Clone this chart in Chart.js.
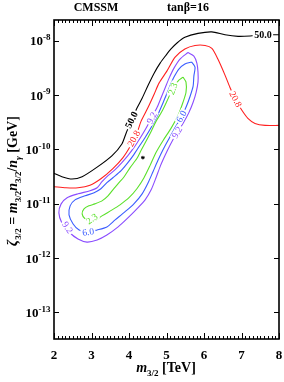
<!DOCTYPE html>
<html><head><meta charset="utf-8">
<script src="https://cdn.jsdelivr.net/npm/chart.js@4/dist/chart.umd.min.js"></script>
<style>html,body{margin:0;padding:0;background:#fff;overflow:hidden}</style>
</head><body>
<canvas id="c" width="284" height="382"></canvas>
<script>
// ---------- data ----------
const levels = ['50.0', '20.8', '9.2', '6.0', '2.3'];

const c50_x = [2.00, 2.21, 2.48, 2.75, 3.15, 3.55, 3.81, 3.93, 4.07, 4.21, 4.35, 4.51, 4.67, 4.83, 4.99, 5.12, 5.28, 5.49, 5.84, 6.21, 6.56, 6.91, 7.23, 7.55, 8.00];
const c50_y = [3.6e-11, 3.12e-11, 2.83e-11, 3.12e-11, 4.68e-11, 7.64e-11, 1.25e-10, 2.04e-10, 3.40e-10, 5.68e-10, 8.69e-10, 1.51e-9, 2.52e-9, 3.86e-9, 5.43e-9, 7.02e-9, 9.06e-9, 1.15e-8, 1.36e-8, 1.45e-8, 1.28e-8, 1.20e-8, 1.22e-8, 1.28e-8, 1.28e-8];

const c208_x = [2.00, 2.32, 2.64, 2.96, 3.25, 3.57, 3.84, 4.03, 4.21, 4.32, 4.51, 4.67, 4.80, 5.01, 5.23, 5.49, 5.76, 6.03, 6.21, 6.37, 6.56, 6.69, 6.85, 7.01, 7.17, 7.36, 7.63, 8.00];
const c208_y = [2.04e-11, 1.95e-11, 1.95e-11, 2.17e-11, 2.86e-11, 4.40e-11, 7.02e-11, 1.12e-10, 1.95e-10, 3.26e-10, 5.92e-10, 1.03e-9, 1.65e-9, 2.75e-9, 4.99e-9, 7.02e-9, 8.15e-9, 8.15e-9, 7.18e-9, 4.58e-9, 2.32e-9, 1.39e-9, 7.98e-10, 5.21e-10, 3.71e-10, 2.99e-10, 2.75e-10, 2.75e-10];

const c92_x = [5.57, 5.73, 5.81, 5.84, 5.84, 5.79, 5.71, 5.60, 5.44, 5.25, 5.09, 4.96, 4.83, 4.72, 4.59, 4.43, 4.21, 3.97, 3.71, 3.41, 3.15, 2.88, 2.64, 2.40, 2.21, 2.13, 2.19, 2.35, 2.64, 2.96, 3.15, 3.28, 3.44, 3.63, 3.81, 3.97, 4.13, 4.29, 4.45, 4.61, 4.75, 4.85, 4.96, 5.07, 5.20, 5.36, 5.57];
const c92_y = [6.04e-9, 5.21e-9, 3.86e-9, 2.63e-9, 1.72e-9, 1.12e-9, 7.33e-10, 4.79e-10, 2.99e-10, 1.87e-10, 1.17e-10, 7.64e-11, 4.79e-11, 2.99e-11, 1.79e-11, 1.17e-11, 7.98e-12, 5.43e-12, 3.71e-12, 2.63e-12, 2.13e-12, 1.95e-12, 2.22e-12, 2.99e-12, 4.40e-12, 6.73e-12, 9.86e-12, 1.28e-11, 1.51e-11, 1.72e-11, 1.95e-11, 2.52e-11, 3.26e-11, 4.21e-11, 5.68e-11, 7.64e-11, 1.07e-10, 1.58e-10, 2.42e-10, 3.86e-10, 5.92e-10, 8.69e-10, 1.33e-9, 2.04e-9, 3.12e-9, 4.58e-9, 6.04e-9];

const c60_x = [5.67, 5.76, 5.73, 5.71, 5.63, 5.52, 5.39, 5.23, 5.07, 4.91, 4.77, 4.64, 4.51, 4.35, 4.13, 3.89, 3.63, 3.41, 3.15, 2.91, 2.67, 2.51, 2.40, 2.43, 2.56, 2.83, 3.07, 3.25, 3.41, 3.57, 3.79, 3.97, 4.13, 4.27, 4.43, 4.59, 4.75, 4.88, 4.99, 5.09, 5.20, 5.33, 5.49, 5.67];
const c60_y = [4.04e-9, 3.26e-9, 2.22e-9, 1.45e-9, 9.46e-10, 5.92e-10, 3.86e-10, 2.52e-10, 1.58e-10, 9.86e-11, 6.18e-11, 3.86e-11, 2.42e-11, 1.51e-11, 9.86e-12, 7.02e-12, 4.99e-12, 3.71e-12, 3.26e-12, 2.99e-12, 3.26e-12, 4.21e-12, 6.18e-12, 9.06e-12, 1.17e-11, 1.39e-11, 1.58e-11, 1.87e-11, 2.42e-11, 2.99e-11, 4.04e-11, 5.68e-11, 7.98e-11, 1.12e-10, 1.65e-10, 2.52e-10, 4.04e-10, 6.44e-10, 9.86e-10, 1.45e-9, 2.13e-9, 2.99e-9, 3.71e-9, 4.04e-9];

const c23_x = [5.44, 5.52, 5.52, 5.44, 5.31, 5.12, 4.91, 4.72, 4.56, 4.40, 4.21, 4.00, 3.76, 3.55, 3.28, 3.12, 2.96, 2.83, 2.75, 2.80, 2.93, 3.09, 3.28, 3.44, 3.57, 3.71, 3.87, 4.03, 4.21, 4.32, 4.45, 4.59, 4.72, 4.88, 5.01, 5.12, 5.23, 5.33, 5.44];
const c23_y = [2.13e-9, 1.72e-9, 1.12e-9, 7.33e-10, 4.21e-10, 2.42e-10, 1.45e-10, 8.69e-11, 4.99e-11, 2.99e-11, 1.87e-11, 1.28e-11, 9.46e-12, 7.64e-12, 5.92e-12, 4.99e-12, 4.79e-12, 5.21e-12, 6.44e-12, 7.98e-12, 9.06e-12, 9.86e-12, 1.12e-11, 1.39e-11, 1.79e-11, 2.32e-11, 3.12e-11, 4.58e-11, 6.73e-11, 9.46e-11, 1.39e-10, 2.13e-10, 3.26e-10, 4.99e-10, 7.64e-10, 1.12e-9, 1.51e-9, 1.87e-9, 2.13e-9];

const bestFit_x = [4.37];
const bestFit_y = [7.0e-11];

// contour labels: level index, value position
const labelLevel = [0, 0, 1, 1, 2, 2, 2, 3, 3, 4, 4];
const label_x = [4.07, 7.57, 4.13, 6.84, 4.61, 5.28, 2.36, 5.40, 2.91, 5.17, 3.01];
const label_y = [3.47e-10, 1.26e-8, 1.58e-10, 8.32e-10, 3.78e-10, 2.04e-10, 3.62e-12, 4.04e-10, 2.99e-12, 1.30e-9, 5.21e-12];

const xTickValues = [2, 3, 4, 5, 6, 7, 8];
const yTickExps = [-8, -9, -10, -11, -12, -13];
const X_MIN = 2, X_MAX = 8, Y_MIN = 3.2e-14, Y_MAX = 2.4e-8;

// ---------- styles ----------
const levelColors = ['#000000', '#ff2020', '#8a4cff', '#3a5cff', '#5ae02a'];
const labelAngles = [-64, 0, -62, 62, -63, -60, 55, -62, -8, -68, -35];
const FAM = "'Liberation Serif','Times New Roman',serif";

const pts = (xs, ys) => xs.map((v, i) => ({x: v, y: ys[i]}));
const contourData = [[c50_x, c50_y], [c208_x, c208_y], [c92_x, c92_y], [c60_x, c60_y], [c23_x, c23_y]];

const datasets = contourData.map((d, i) => ({
  label: levels[i], data: pts(d[0], d[1]), showLine: true, borderColor: levelColors[i],
  borderWidth: 1.1, pointRadius: 0, tension: 0.25, fill: false
}));
datasets.push({label: 'best fit', data: pts(bestFit_x, bestFit_y), showLine: false,
  pointStyle: 'star', pointRadius: 1.8, borderColor: '#000', borderWidth: 1, backgroundColor: '#000'});

function drawRich(ctx, parts, cx, base, size) {
  const f = p => `${p[1] === 'bi' ? 'italic ' : ''}bold ${p[2] ? Math.round(size * 0.64) : size}px ${FAM}`;
  let total = 0;
  parts.forEach(p => { ctx.font = f(p); total += ctx.measureText(p[0]).width; });
  let x = cx - total / 2;
  ctx.textAlign = 'left'; ctx.textBaseline = 'alphabetic';
  parts.forEach(p => {
    ctx.font = f(p);
    ctx.fillText(p[0], x, base + (p[2] ? size * 0.28 : 0));
    x += ctx.measureText(p[0]).width;
  });
}

const deco = {
  id: 'deco',
  afterDatasetsDraw(chart) {
    const {ctx, chartArea: a, scales: {x, y}} = chart;
    ctx.save();
    // contour labels
    labelLevel.forEach((lv, i) => {
      const px = x.getPixelForValue(label_x[i]), py = y.getPixelForValue(label_y[i]);
      const t = levels[lv];
      ctx.save();
      ctx.translate(px, py);
      ctx.rotate(labelAngles[i] * Math.PI / 180);
      ctx.font = (lv === 0 ? 'bold 10px ' : '9.5px ') + FAM;
      const w = ctx.measureText(t).width;
      ctx.fillStyle = '#fff';
      ctx.fillRect(-w / 2 - 1.5, -4, w + 3, 8);
      ctx.fillStyle = levelColors[lv];
      ctx.textAlign = 'center'; ctx.textBaseline = 'middle';
      ctx.fillText(t, 0, 0.5);
      ctx.restore();
    });
    // frame
    ctx.strokeStyle = '#000'; ctx.lineWidth = 1.6;
    ctx.strokeRect(a.left, a.top, a.right - a.left, a.bottom - a.top);
    // x ticks (major + minor every 0.1)
    ctx.lineWidth = 1;
    ctx.beginPath();
    for (let i = X_MIN * 10; i <= X_MAX * 10; i++) {
      const px = Math.round(x.getPixelForValue(i / 10)) + 0.5;
      const len = i % 10 === 0 ? 6 : 3;
      ctx.moveTo(px, a.bottom); ctx.lineTo(px, a.bottom - len);
      ctx.moveTo(px, a.top); ctx.lineTo(px, a.top + len);
    }
    // y ticks
    yTickExps.forEach(e => {
      const py = Math.round(y.getPixelForValue(Math.pow(10, e))) + 0.5;
      ctx.moveTo(a.left, py); ctx.lineTo(a.left + 5, py);
      ctx.moveTo(a.right, py); ctx.lineTo(a.right - 5, py);
    });
    ctx.stroke();
    // tick labels
    ctx.fillStyle = '#000';
    ctx.textBaseline = 'alphabetic';
    xTickValues.forEach(v => {
      ctx.font = 'bold 13px ' + FAM; ctx.textAlign = 'center';
      ctx.fillText(String(v), x.getPixelForValue(v), 359);
    });
    yTickExps.forEach(e => {
      const py = y.getPixelForValue(Math.pow(10, e));
      const sup = String(e);
      ctx.font = 'bold 9px ' + FAM;
      const ws = ctx.measureText(sup).width;
      ctx.textAlign = 'left';
      ctx.fillText(sup, 50.5 - ws, py - 0.5);
      ctx.font = 'bold 13px ' + FAM;
      const wb = ctx.measureText('10').width;
      ctx.fillText('10', 50.5 - ws - wb, py + 4.8);
    });
    // titles
    ctx.font = 'bold 12px ' + FAM; ctx.textAlign = 'center';
    ctx.fillText('CMSSM', 96, 11);
    ctx.fillText('tanβ=16', 188, 11);
    drawRich(ctx, [['m', 'bi', 0], ['3/2', 'b', 1], [' [TeV]', 'b', 0]], 166, 372, 14);
    ctx.save();
    ctx.translate(17, 181); ctx.rotate(-Math.PI / 2);
    drawRich(ctx, [['ζ', 'bi', 0], ['3/2', 'b', 1], [' = ', 'b', 0], ['m', 'bi', 0], ['3/2', 'b', 1],
      ['n', 'bi', 0], ['3/2', 'b', 1], ['/', 'b', 0], ['n', 'bi', 0], ['γ', 'bi', 1], [' [GeV]', 'b', 0]], 0, 0, 14);
    ctx.restore();
    ctx.restore();
  }
};

new Chart(document.getElementById('c'), {
  type: 'scatter',
  data: {datasets},
  options: {
    responsive: false, animation: false, devicePixelRatio: 1, events: [],
    layout: {padding: {top: 20, right: 5, left: 0, bottom: 0}},
    plugins: {legend: {display: false}, tooltip: {enabled: false}},
    scales: {
      x: {type: 'linear', min: X_MIN, max: X_MAX, grid: {display: false}, border: {display: false},
        ticks: {display: false}, afterFit(s) { s.height = 43; },
        afterBuildTicks(s) { s.min = X_MIN; s.max = X_MAX; }},
      y: {type: 'logarithmic', min: Y_MIN, max: Y_MAX, grid: {display: false}, border: {display: false},
        ticks: {display: false}, afterFit(s) { s.width = 54; },
        afterBuildTicks(s) { s.min = Y_MIN; s.max = Y_MAX; }}
    }
  },
  plugins: [deco]
});
</script>
</body></html>
